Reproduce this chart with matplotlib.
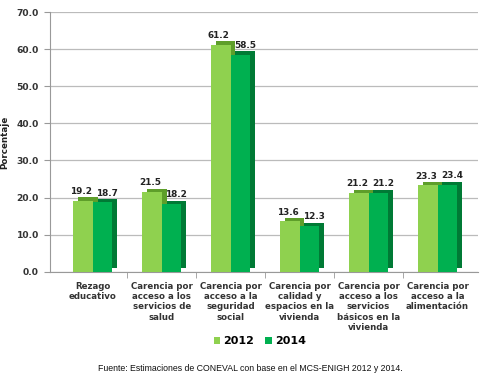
import matplotlib
matplotlib.use("Agg")
import matplotlib.pyplot as plt
import numpy as np

categories = ["Rezago\neducativo",
              "Carencia por\nacceso a los\nservicios de\nsalud",
              "Carencia por\nacceso a la\nseguridad\nsocial",
              "Carencia por\ncalidad y\nespacios en la\nvivienda",
              "Carencia por\nacceso a los\nservicios\nbásicos en la\nvivienda",
              "Carencia por\nacceso a la\nalimentación"]
v2012 = [19.2, 21.5, 61.2, 13.6, 21.2, 23.3]
v2014 = [18.7, 18.2, 58.5, 12.3, 21.2, 23.4]
series = ["2012", "2014"]
yticks = [0, 10, 20, 30, 40, 50, 60, 70]

c12, c12s = "#8FD14F", "#5E9E2A"
c14, c14s = "#00B050", "#007A35"

fig = plt.figure(figsize=(5.0, 3.77), dpi=100)
ax = fig.add_axes([0.10, 0.279, 0.855, 0.689])

x = np.arange(len(categories))
w = 0.28
dx = 0.07
dy = 0.9
for vals, off, loff, c, cs, lab in [(v2012, -w / 2, -0.03, c12, c12s, series[0]),
                                    (v2014, w / 2, 0.07, c14, c14s, series[1])]:
    # pseudo-3D side/top shading
    ax.bar(x + off + dx, vals, width=w, bottom=dy, color=cs, zorder=2)
    ax.bar(x + off, vals, width=w, color=c, zorder=3, label=lab)
    for xi, v in zip(x + off, vals):
        ax.text(xi + loff, v + 1.3, f"{v:.1f}", ha="center", va="bottom",
                fontsize=6.4, fontweight="bold", color="#222222", zorder=4)

ax.set_ylim(0, 70)
ax.set_xlim(-0.62, len(categories) - 0.42)
ax.set_yticks(yticks)
ax.set_yticklabels([f"{t:.1f}" for t in yticks], fontsize=6.6, fontweight="bold",
                   color="#333333")
ax.yaxis.grid(True, color="#BBBBBB", linewidth=0.9, zorder=0)
ax.set_axisbelow(True)
ax.set_xticks(x)
ax.set_xticklabels(categories, fontsize=6.2, fontweight="bold", color="#333333",
                   linespacing=1.2)
ax.set_xticks(np.arange(len(categories) - 1) + 0.5, minor=True)
ax.tick_params(axis="x", which="major", length=0, pad=7)
ax.tick_params(axis="x", which="minor", length=4, color="#999999")
ax.tick_params(axis="y", length=4, color="#999999", pad=4)
for s in ["top", "right"]:
    ax.spines[s].set_visible(False)
ax.spines["left"].set_color("#999999")
ax.spines["bottom"].set_color("#999999")
ax.set_ylabel("Porcentaje", fontsize=6.3, fontweight="bold", color="#222222",
              labelpad=5)

leg = fig.legend(loc="center", bbox_to_anchor=(0.52, 0.095), ncol=2, frameon=False,
                 handlelength=0.6, handleheight=0.6, columnspacing=1.0,
                 handletextpad=0.3, prop={"weight": "bold", "size": 8})

fig.text(0.5, 0.022, "Fuente: Estimaciones de CONEVAL con base en el MCS-ENIGH 2012 y 2014.",
         ha="center", va="center", fontsize=6.3, family="Liberation Sans", color="#111111")

fig.savefig("out.png", dpi=100)
